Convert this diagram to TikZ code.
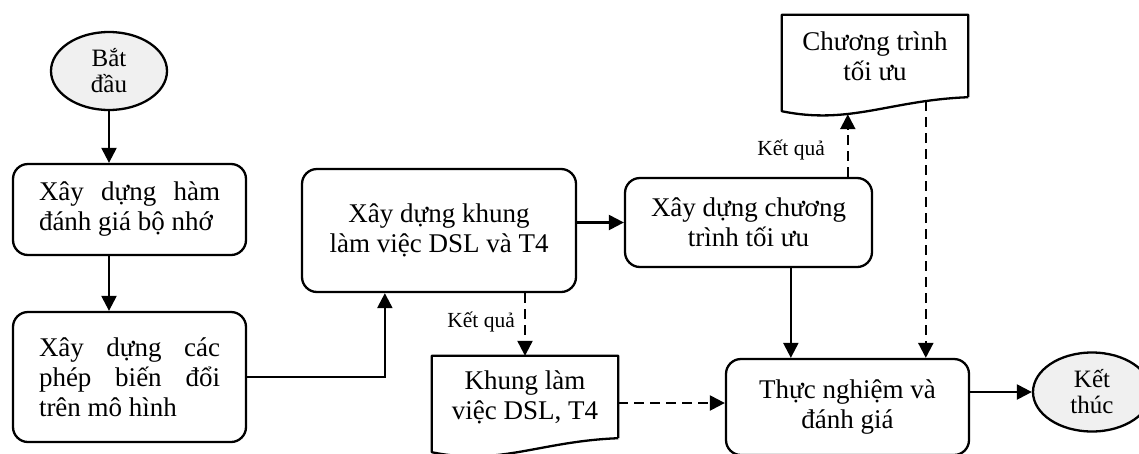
\documentclass[tikz,border=0pt]{standalone}
\usepackage{fontspec}
\setmainfont{Liberation Serif}
\usetikzlibrary{arrows.meta,shapes.geometric,calc}
\hyphenpenalty=10000
\exhyphenpenalty=10000

\tikzset{
  boxfont/.style={font=\fontsize{27}{30}\selectfont},
  proc/.style={draw, line width=2.3pt, rounded corners=15pt, inner sep=0pt, boxfont, align=center},
  term/.style={ellipse, draw, line width=2.3pt, fill=gray!12, inner sep=0pt,
    font=\fontsize{25}{26}\selectfont, align=center},
  docbox/.style={inner sep=0pt, minimum width=186pt, minimum height=82pt, boxfont, align=center},
  docline/.style={line width=2.3pt, line join=round},
  arr/.style={line width=2.3pt, -{Triangle[length=15pt,width=15pt]}},
  darr/.style={arr, dash pattern=on 10pt off 6pt},
  lbl/.style={font=\fontsize{21.5}{24}\selectfont, inner sep=0pt, anchor=east}
}

\begin{document}
\begin{tikzpicture}[x=1pt, y=-1pt]
  \clip (0,0) rectangle (1139,453);
  \fill[white] (0,0) rectangle (1139,453);

  % terminals
  \node[term, minimum width=116pt, minimum height=78pt] (nstart) at (109,71) {Bắt\\đầu};
  \node[term, minimum width=118pt, minimum height=79pt] (nend) at (1092,392) {Kết\\thúc};

  % process steps
  \node[proc, minimum width=233pt, minimum height=91pt, text width=181pt, align=justify]
    (b1) at (129.5,209.5) {Xây dựng hàm\linebreak đánh giá bộ nhớ};
  \node[proc, minimum width=233pt, minimum height=130pt, text width=181pt, align=justify]
    (b2) at (129.5,377) {Xây dựng các\linebreak phép biến đổi\linebreak trên mô hình};
  \node[proc, minimum width=274pt, minimum height=123pt] (b3) at (439,230.5)
    {Xây dựng khung\\làm việc DSL và T4};
  \node[proc, minimum width=247pt, minimum height=89pt] (b4) at (748.5,222.5)
    {Xây dựng chương\\trình tối ưu};
  \node[proc, minimum width=243pt, minimum height=96pt] (b5) at (847.5,407)
    {Thực nghiệm và\\đánh giá};

  % documents (wavy bottom edge below the south anchor)
  \node[docbox] (d1) at (875,56) {Chương trình\\tối ưu};
  \node[docbox] (d2) at (525,397) {Khung làm\\việc DSL, T4};
  \foreach \d in {d1,d2}{
    \draw[docline] (\d.south east) -- (\d.north east) -- (\d.north west)
      -- ($(\d.south west)+(0,14)$)
      .. controls ($(\d.south west)+(68,28)$) and ($(\d.south west)+(108,3)$) .. (\d.south east);
  }
  \coordinate (d1in)  at ($(d1.south west)+(66,17)$);
  \coordinate (d1out) at ($(d1.south west)+(144,4)$);

  % solid flow
  \draw[arr] (nstart.south) -- (nstart.south |- b1.north);
  \draw[arr] (b1.south -| nstart.south) -- (b2.north -| nstart.south);
  \draw[arr] (b2.east) -| ($(b3.south west)+(84,0)$);
  \draw[arr] (b4.west -| b3.east) -- (b4.west);
  \coordinate (b4out) at ($(b4.south west)+(167,0)$);
  \draw[arr] (b4out) -- (b4out |- b5.north);
  \draw[arr] (b5.east |- nend.west) -- (nend.west);

  % results
  \draw[darr] (b3.south -| d2.north) -- (d2.north);
  \node[lbl] (r1) at (515,322) {Kết quả};
  \draw[darr] (b4.north -| d1in) -- (d1in);
  \node[lbl] (r2) at (825,150) {Kết quả};
  \draw[darr] (d1out) -- (d1out |- b5.north);
  \draw[darr] ($(d2.east)+(0,6)$) coordinate (d2out) -- (d2out -| b5.west);
\end{tikzpicture}
\end{document}
